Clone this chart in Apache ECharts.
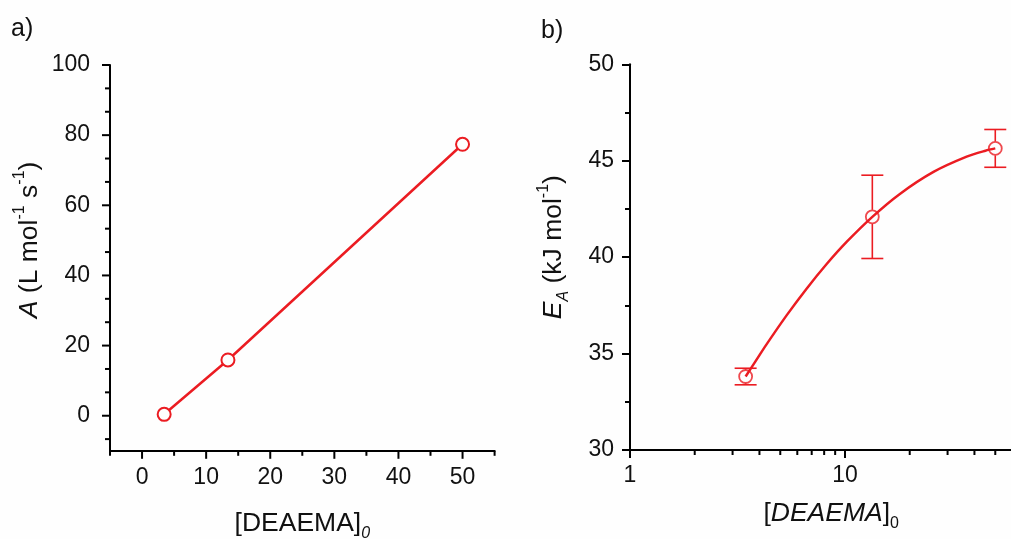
<!DOCTYPE html>
<html>
<head>
<meta charset="utf-8">
<script src="https://cdn.jsdelivr.net/npm/echarts@6/dist/echarts.min.js"></script>
<style>
  html, body { margin: 0; padding: 0; background: #fefefe; }
  #chart { width: 1011px; height: 539px; }
</style>
</head>
<body>
<div id="chart"></div>
<script>
// Monomer concentration [DEAEMA]0 of the three runs
const concentrations = [3.45, 13.4, 50];
// Panel a: pre-exponential factor A (L mol-1 s-1)
const preExpFactor = [0.4, 15.9, 77.4];
// Panel b: activation energy EA (kJ mol-1) with its error
const activationEnergy = [33.81, 42.09, 45.64];
const activationErr = [0.43, 2.16, 0.98];
// Panel b: fitted trend line, sampled along the curve
const fitX = [3.45, 3.8, 4.3, 5.35, 6.6, 8.2, 10.2, 13.4, 18, 25.8, 36.8, 45, 50];
const fitE = [33.81, 34.53, 35.45, 36.98, 38.34, 39.63, 40.8, 42.09, 43.28, 44.42, 45.21, 45.52, 45.64];
// Tick positions
const aXMajor = [0, 10, 20, 30, 40, 50];
const aXMinor = [-5, 5, 15, 25, 35, 45, 55];
const aYMajor = [0, 20, 40, 60, 80, 100];
const bXMajor = [1, 10];
const bXMinor = [2, 3, 4, 5, 6, 7, 8, 9, 20, 30, 40, 50];

const RED = '#eb1c22';
const FONT = '"Liberation Sans", Arial, sans-serif';
const MAJOR_LEN = 8, MINOR_LEN = 5;

// minor ticks of panel a y-axis: two between each pair of labelled ticks
const aYMinor = [];
for (let k = -1; k < 15; k++) {
  const v = Math.round((k * 20 / 3) * 1000) / 1000;
  if (v >= -10 && v <= 100 && k % 3 !== 0) aYMinor.push(v);
}

const chart = echarts.init(document.getElementById('chart'), null, { renderer: 'canvas' });

const axisLine = { show: true, onZero: false, lineStyle: { color: '#000', width: 2 } };
const tickLabel = { color: '#111', fontSize: 23, fontFamily: FONT };
const NAME_SIZE = 26.5;
const nameStyleBase = { color: '#111', fontSize: NAME_SIZE, fontFamily: FONT, lineHeight: 36 };
const richBase = {
  i: { fontStyle: 'italic', fontSize: NAME_SIZE, fontFamily: FONT, color: '#111' },
  sup: { fontSize: 16, fontFamily: FONT, color: '#111', verticalAlign: 'top', lineHeight: 17 },
  sub: { fontSize: 16, fontFamily: FONT, color: '#111', verticalAlign: 'bottom', lineHeight: 15 },
  subi: { fontSize: 16, fontFamily: FONT, fontStyle: 'italic', color: '#111', verticalAlign: 'bottom', lineHeight: 15 }
};

// tick marks drawn through the axes' own scales; dir 'down' for x, 'left' for y
function tickSeries(xIdx, yIdx, points, dir) {
  return {
    type: 'custom', xAxisIndex: xIdx, yAxisIndex: yIdx,
    data: points, clip: false, silent: true, z: 5,
    renderItem: function (params, api) {
      const p = api.coord([api.value(0), api.value(1)]);
      const len = api.value(2);
      const shape = dir === 'down'
        ? { x1: p[0], y1: p[1], x2: p[0], y2: p[1] + len }
        : { x1: p[0], y1: p[1], x2: p[0] - len, y2: p[1] };
      return { type: 'line', shape: shape, style: { stroke: '#000', lineWidth: 2 } };
    }
  };
}

const errorBarData = concentrations.map((c, i) => [c, activationEnergy[i] - activationErr[i], activationEnergy[i] + activationErr[i], activationEnergy[i]]);

chart.setOption({
  backgroundColor: '#fefefe',
  animation: false,
  title: [
    { text: 'a)', left: 6, top: 12, textStyle: { fontSize: 25, fontWeight: 'normal', fontFamily: FONT, color: '#111' } },
    { text: 'b)', left: 536, top: 14, textStyle: { fontSize: 25, fontWeight: 'normal', fontFamily: FONT, color: '#111' } }
  ],
  grid: [
    { left: 110, top: 65, width: 384.6, height: 385.8, outerBoundsMode: 'none', containLabel: false },
    { left: 630, top: 64.3, width: 382.3, height: 385.7, outerBoundsMode: 'none', containLabel: false }
  ],
  xAxis: [
    {
      gridIndex: 0, type: 'value', min: -5, max: 55, position: 'bottom',
      axisLine: axisLine,
      axisTick: { show: false },
      axisLabel: Object.assign({ margin: 15, customValues: aXMajor }, tickLabel),
      splitLine: { show: false },
      name: '[DEAEMA]{subi|0}', nameLocation: 'middle', nameGap: 55,
      nameTextStyle: Object.assign({ rich: richBase }, nameStyleBase)
    },
    {
      gridIndex: 1, type: 'log', logBase: 10, min: 1, max: 60, position: 'bottom',
      axisLine: axisLine,
      axisTick: { show: false },
      axisLabel: Object.assign({
        margin: 14,
        formatter: v => (bXMajor.indexOf(Math.round(v)) >= 0 ? String(Math.round(v)) : '')
      }, tickLabel),
      minorTick: { show: false },
      splitLine: { show: false },
      name: '[{i|DEAEMA}]{sub|0}', nameLocation: 'middle', nameGap: 46,
      nameTextStyle: Object.assign({ rich: richBase, padding: [0, 0, 0, 20] }, nameStyleBase)
    }
  ],
  yAxis: [
    {
      gridIndex: 0, type: 'value', min: -10, max: 100, position: 'left',
      axisLine: axisLine,
      axisTick: { show: false },
      axisLabel: Object.assign({ margin: 20, customValues: aYMajor }, tickLabel),
      splitLine: { show: false },
      name: '{i|A} (L mol{sup|-1} s{sup|-1})', nameLocation: 'middle', nameRotate: 90, nameGap: 55,
      nameTextStyle: Object.assign({ rich: richBase, padding: [0, 0, 0, 36] }, nameStyleBase)
    },
    {
      gridIndex: 1, type: 'value', min: 30, max: 50, interval: 5, position: 'left',
      axisLine: axisLine,
      axisTick: { show: true, length: MAJOR_LEN, lineStyle: { color: '#000', width: 2 } },
      minorTick: { show: true, splitNumber: 2, length: MINOR_LEN, lineStyle: { color: '#000', width: 2 } },
      axisLabel: Object.assign({ margin: 16 }, tickLabel),
      splitLine: { show: false },
      minorSplitLine: { show: false },
      name: '{i|E}{subi|A} (kJ mol{sup|-1})', nameLocation: 'middle', nameRotate: 90, nameGap: 58,
      nameTextStyle: Object.assign({ rich: richBase, padding: [0, 0, 0, 20] }, nameStyleBase)
    }
  ],
  series: [
    {
      // panel a: A versus concentration
      type: 'line', xAxisIndex: 0, yAxisIndex: 0,
      data: concentrations.map((c, i) => [c, preExpFactor[i]]),
      symbol: 'circle', symbolSize: 13,
      lineStyle: { color: RED, width: 2.5 },
      itemStyle: { color: '#fefefe', borderColor: RED, borderWidth: 2 },
      z: 3
    },
    {
      // panel b: fitted curve
      type: 'line', xAxisIndex: 1, yAxisIndex: 1,
      data: fitX.map((x, i) => [x, fitE[i]]),
      smooth: 0.3, showSymbol: false, symbol: 'none',
      lineStyle: { color: RED, width: 2.5 },
      z: 2
    },
    {
      // panel b: error bars (kept outside the marker ring)
      type: 'custom', xAxisIndex: 1, yAxisIndex: 1,
      data: errorBarData,
      encode: { x: 0, y: [1, 2] },
      clip: false,
      renderItem: function (params, api) {
        const x = api.value(0);
        const lo = api.coord([x, api.value(1)]);
        const hi = api.coord([x, api.value(2)]);
        const mid = api.coord([x, api.value(3)]);
        const half = 11, r = 7;
        const style = { stroke: RED, lineWidth: 1.6, fill: null };
        const children = [
          { type: 'line', shape: { x1: lo[0] - half, y1: lo[1], x2: lo[0] + half, y2: lo[1] }, style: style },
          { type: 'line', shape: { x1: hi[0] - half, y1: hi[1], x2: hi[0] + half, y2: hi[1] }, style: style }
        ];
        if (hi[1] < mid[1] - r) children.push({ type: 'line', shape: { x1: hi[0], y1: hi[1], x2: mid[0], y2: mid[1] - r }, style: style });
        if (lo[1] > mid[1] + r) children.push({ type: 'line', shape: { x1: lo[0], y1: lo[1], x2: mid[0], y2: mid[1] + r }, style: style });
        return { type: 'group', children: children };
      },
      z: 3
    },
    {
      // panel b: measured points, open rings
      type: 'scatter', xAxisIndex: 1, yAxisIndex: 1,
      data: concentrations.map((c, i) => [c, activationEnergy[i]]),
      symbol: 'circle', symbolSize: 13,
      itemStyle: { color: 'rgba(0,0,0,0)', borderColor: RED, borderWidth: 1.8 },
      z: 4
    },
    // axis tick marks
    tickSeries(0, 0, aXMajor.map(v => [v, -10, MAJOR_LEN]).concat(aXMinor.map(v => [v, -10, MINOR_LEN])), 'down'),
    tickSeries(0, 0, aYMajor.map(v => [-5, v, MAJOR_LEN]).concat(aYMinor.map(v => [-5, v, MINOR_LEN])), 'left'),
    tickSeries(1, 1, bXMajor.map(v => [v, 30, MAJOR_LEN]).concat(bXMinor.map(v => [v, 30, MINOR_LEN])), 'down')
  ]
});
</script>
</body>
</html>
